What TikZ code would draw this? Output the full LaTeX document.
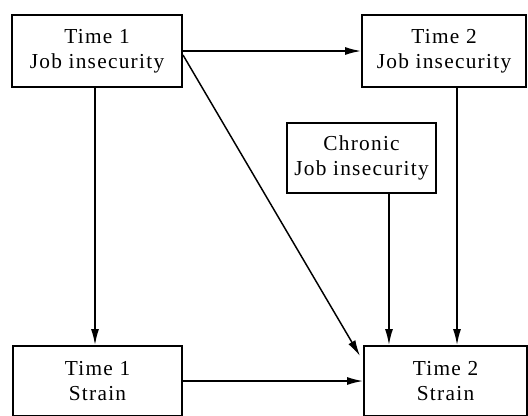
\documentclass[tikz,border=0pt]{standalone}
\usepackage{fontspec}
\setmainfont{Liberation Serif}
\newfontfamily\boxfont[LetterSpace=6]{Liberation Serif}
\usetikzlibrary{arrows.meta,positioning,calc}

\begin{document}
\begin{tikzpicture}[
      x=0.75pt, y=-0.75pt,
      box/.style={draw=black, line width=1.5pt, inner sep=0pt, align=center,
                  font=\boxfont\fontsize{16}{18.8}\selectfont},
      arr/.style={-{Latex[length=12pt,width=6pt]}, line width=1.1pt}
    ]
    \useasboundingbox (0,0) rectangle (528,415);
    \clip (0,0) rectangle (528,415);
    \node[box, minimum width=127.5pt, minimum height=54pt] (t1ji) at (97,51)
      {Time 1\\Job insecurity};
    \node[box, minimum width=123pt, minimum height=54pt] (t2ji) at (444,51)
      {Time 2\\Job insecurity};
    \node[box, minimum width=111.75pt, minimum height=52.5pt] (chr) at (361.5,158)
      {Chronic\\Job insecurity};
    \node[box, minimum width=126.75pt, minimum height=52.5pt] (t1s) at (97.5,381)
      {Time 1\\Strain};
    \node[box, minimum width=122.25pt, minimum height=52.5pt] (t2s) at (445.5,381)
      {Time 2\\Strain};
    \draw[arr] (t1ji) -- (t2ji);
    \draw[arr] ([xshift=-1.5pt]t1ji.south) -- ([xshift=-1.5pt]t1ji.south |- t1s.north);
    \draw[arr] ([yshift=-3pt]t1ji.east) -- ([xshift=-2.25pt,yshift=-8.25pt]t2s.north west);
    \draw[arr] (t1s) -- (t2s);
    \draw[arr] ([xshift=20.6pt]chr.south) -- ([xshift=20.6pt]chr.south |- t2s.north);
    \draw[arr] ([xshift=9.75pt]t2ji.south) -- ([xshift=9.75pt]t2ji.south |- t2s.north);
  \end{tikzpicture}
\end{document}
